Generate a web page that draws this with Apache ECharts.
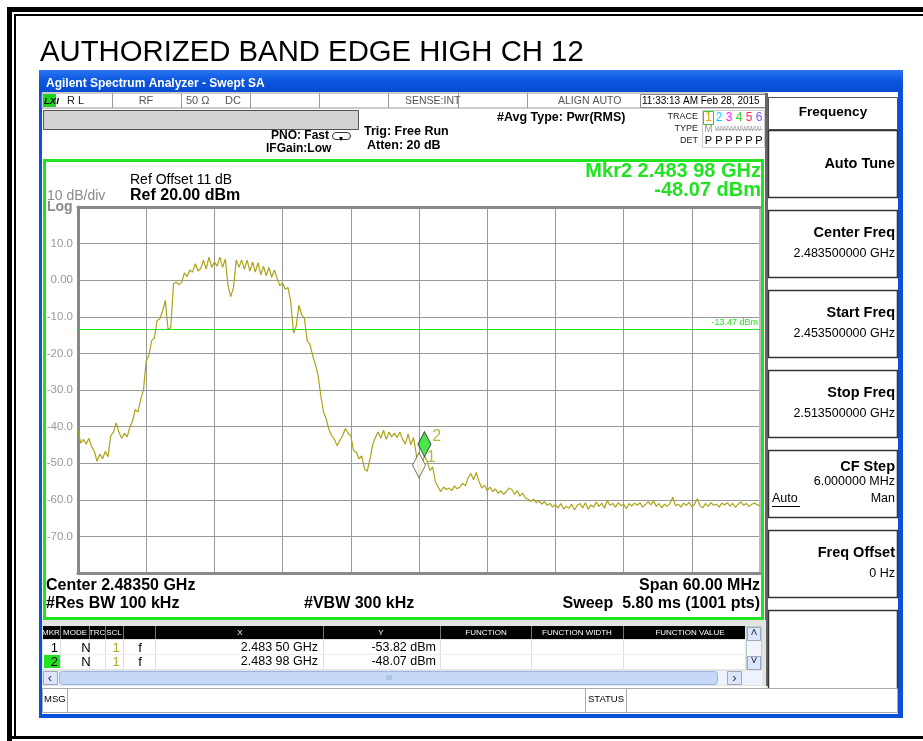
<!DOCTYPE html>
<html><head><meta charset="utf-8">
<script src="https://cdn.jsdelivr.net/npm/echarts@6/dist/echarts.min.js"></script>
<style>html,body{margin:0;padding:0;background:#fff;}#c{width:923px;height:741px;}</style>
</head><body><div id="c"></div>
<script>
// ---- data ----
const titleText = 'AUTHORIZED BAND EDGE HIGH CH 12';
const startFreqGHz = 2.4535;
const spanMHz = 60;
const divMHz = 6;
const refLevelDbm = 20;
const dbPerDiv = 10;
const traceStepMHz = 0.24;
const traceDbm = [
 -41.0,-44.5,-43.5,-44.8,-43.2,-45.5,-46.8,-49.5,-47.5,-48.8,
 -46.8,-48.2,-42.5,-41.5,-39.0,-41.5,-43.2,-41.8,-42.8,-40.2,
 -38.5,-35.3,-36.0,-32.5,-30.0,-22.0,-20.5,-16.5,-15.8,-11.0,
 -10.5,-8.5,-5.5,-13.4,-13.0,-1.0,-0.5,-1.2,-0.6,2.0,
 1.0,2.8,2.2,4.5,2.5,3.2,5.5,3.0,6.3,3.5,
 5.0,3.8,6.3,3.5,5.8,-1.5,-4.5,-2.0,5.5,3.5,
 5.5,3.0,5.5,2.5,5.0,2.2,4.8,1.5,3.8,1.2,
 3.5,0.8,2.8,0.5,-1.5,-0.8,-2.5,-2.0,-6.0,-14.5,
 -12.5,-6.8,-9.5,-10.5,-16.5,-17.5,-20.5,-23.0,-26.0,-31.5,
 -36.0,-38.0,-40.8,-42.5,-43.5,-45.2,-43.8,-42.5,-40.5,-41.8,
 -42.5,-46.5,-47.0,-48.8,-48.0,-51.5,-52.2,-49.0,-45.0,-43.0,
 -41.5,-43.2,-41.0,-43.5,-41.5,-42.8,-41.8,-43.0,-41.5,-43.5,
 -44.8,-42.0,-45.0,-43.0,-47.5,-53.82,-50.0,-48.07,-49.5,-52.0,
 -51.0,-55.0,-56.5,-57.8,-56.5,-57.2,-56.8,-57.5,-56.2,-57.0,
 -56.5,-55.5,-56.2,-54.0,-52.8,-54.5,-52.5,-55.0,-56.8,-56.0,
 -57.5,-56.5,-57.8,-57.0,-58.2,-57.5,-58.5,-57.8,-56.8,-57.2,
 -58.5,-57.5,-59.0,-58.2,-59.5,-59.8,-60.5,-59.8,-60.8,-60.2,
 -61.2,-60.5,-61.5,-61.0,-62.0,-61.3,-62.2,-61.0,-62.5,-61.8,
 -62.3,-61.2,-62.8,-61.5,-61.0,-62.2,-60.8,-62.6,-61.4,-62.0,
 -60.6,-61.8,-60.9,-62.3,-60.2,-61.5,-61.0,-62.0,-60.8,-61.6,
 -61.2,-62.4,-61.0,-61.7,-60.9,-61.5,-60.8,-62.0,-61.3,-60.5,
 -61.4,-60.3,-61.8,-61.0,-62.2,-61.2,-61.8,-61.0,-59.3,-61.6,
 -61.2,-62.0,-60.9,-61.5,-60.7,-61.9,-61.2,-59.7,-61.6,-62.2,
 -61.0,-61.8,-60.8,-61.5,-61.2,-62.0,-60.9,-61.4,-60.8,-61.7,
 -61.0,-62.1,-61.2,-60.6,-61.5,-61.0,-61.8,-61.2,-60.9,-61.4,-61.6
];
const markerIds = ['1', '2'];
const markerFreqGHz = [2.48350, 2.48398];
const markerDbm = [-53.82, -48.07];
const markerText = ['2.483 50 GHz', '2.483 98 GHz'];
const displayLineDbm = -13.47;
const softKeys = ['Auto Tune', 'Center Freq', 'Start Freq', 'Stop Freq', 'CF Step', 'Freq Offset'];
const softValues = ['', '2.483500000 GHz', '2.453500000 GHz', '2.513500000 GHz', '6.000000 MHz', '0 Hz'];

// ---- helpers ----
const FF = '"Liberation Sans", Arial, sans-serif';
const G = [];
function R(x, y, w, h, fill, stroke, lw) {
  G.push({type: 'rect', silent: true, shape: {x, y, width: w, height: h},
    style: {fill: fill || 'none', stroke: stroke || null, lineWidth: lw || 1}});
}
function L(x1, y1, x2, y2, color, lw) {
  G.push({type: 'line', silent: true, shape: {x1, y1, x2, y2}, style: {stroke: color, lineWidth: lw || 1}});
}
function T(x, y, text, size, o) {
  o = o || {};
  G.push({type: 'text', silent: true, x, y,
    style: {text, font: (o.style || '') + ' ' + (o.weight || 'normal') + ' ' + size + 'px ' + (o.family || FF),
      fill: o.color || '#000', align: o.align || 'left', verticalAlign: 'middle'}});
}

// outer frame
R(7, 7, 923, 5, '#000');
R(7, 7, 5, 734, '#000');
R(14, 14, 909, 2, '#000');
R(14, 14, 2, 725, '#000');
R(7, 736, 923, 3, '#000');

T(40, 52.5, titleText, 29.3, {});

// window
R(39, 70, 864, 648, '#0b50d8');
G.push({type: 'rect', silent: true, shape: {x: 39, y: 70, width: 864, height: 22},
  style: {fill: new echarts.graphic.LinearGradient(0, 0, 0, 1, [
    {offset: 0, color: '#2a74f0'}, {offset: 0.5, color: '#0a56e0'}, {offset: 1, color: '#0a4bd0'}])}});
T(46, 84, 'Agilent Spectrum Analyzer - Swept SA', 12, {color: '#fff', weight: 'bold'});
R(42, 92, 856, 622, '#ffffff');

// status row
R(42, 93, 724, 15, '#fff', '#999', 1);
R(43, 94, 13, 13, '#1fd21f');
T(44, 101, 'LXI', 9.5, {style: 'italic', weight: 'bold'});
T(67, 101, 'R L', 11, {color: '#222'});
[112, 181, 250, 319, 388, 458, 527].forEach(x => L(x + 0.5, 93, x + 0.5, 108, '#999', 1));
T(146, 101, 'RF', 11, {color: '#555', align: 'center'});
T(186, 101, '50 \u03a9', 11, {color: '#555'});
T(225, 101, 'DC', 11, {color: '#555'});
T(405, 101, 'SENSE:INT', 10.5, {color: '#555'});
T(558, 101, 'ALIGN AUTO', 10.5, {color: '#555'});
R(640.5, 94.5, 125, 13, '#fff', '#888', 1);
T(642, 101, '11:33:13 AM Feb 28, 2015', 10, {color: '#000'});

// gray bar
R(43.5, 110.5, 315, 19, '#d2d2d2', '#555', 1);

T(271, 136, 'PNO: Fast', 12, {weight: 'bold'});
T(266, 148.5, 'IFGain:Low', 12, {weight: 'bold'});
G.push({type: 'rect', silent: true, shape: {x: 332.5, y: 132.5, width: 18, height: 7, r: 3.5}, style: {fill: '#fff', stroke: '#333', lineWidth: 1}});
G.push({type: 'polygon', silent: true, shape: {points: [[339, 137], [343, 137], [341, 141]]}, style: {fill: '#000'}});
T(364, 131.5, 'Trig: Free Run', 12.5, {weight: 'bold'});
T(367, 146, 'Atten: 20 dB', 12.5, {weight: 'bold'});
T(497, 118, '#Avg Type: Pwr(RMS)', 12.5, {weight: 'bold'});
T(698, 117, 'TRACE', 9, {align: 'right', color: '#222'});
T(698, 129, 'TYPE', 9, {align: 'right', color: '#222'});
T(698, 141, 'DET', 9, {align: 'right', color: '#222'});
R(702.5, 110.5, 62, 37, '#fff', '#ccc', 1);
R(703.5, 111.5, 10, 13, '#fff', '#30d030', 1);
const trColors = ['#f0a000', '#00d8ff', '#ff20ff', '#30d030', '#ff3050', '#8a50ff'];
const trX = [708.5, 719, 729, 739, 749, 759];
trX.forEach((x, i) => {
  T(x, 118, String(i + 1), 12, {color: trColors[i], align: 'center'});
  T(x, 141, 'P', 11, {color: '#000', align: 'center'});
});
T(708.5, 129, 'M', 10, {color: '#999', align: 'center'});
T(715, 129, 'WWWWWWW', 7, {color: '#999'});
L(715, 129.5, 763, 129.5, '#bbb', 1);

// right soft-key panel
R(765, 93, 3, 593, '#666');
R(768.5, 97.5, 129, 32, '#fff', '#555', 1);
T(833, 112, 'Frequency', 13.5, {weight: 'bold', align: 'center'});
const keyTops = [130, 210, 290, 370, 450, 530];
keyTops.forEach((t, i) => {
  R(768.5, t + 0.5, 129, 67, '#fff', '#333', 1.5);
  if (i === 4) {
    T(895, t + 16.5, softKeys[i], 14.5, {weight: 'bold', align: 'right'});
    T(895, t + 32, softValues[i], 12.5, {align: 'right'});
    T(772, t + 49, 'Auto', 12.5, {});
    L(772, t + 56.5, 800, t + 56.5, '#000', 1);
    T(895, t + 49, 'Man', 12.5, {align: 'right'});
  } else if (i === 0) {
    T(895, t + 33.5, softKeys[i], 14.5, {weight: 'bold', align: 'right'});
  } else {
    T(895, t + 22.5, softKeys[i], 14.5, {weight: 'bold', align: 'right'});
    T(895, t + 43.5, softValues[i], 12.5, {align: 'right'});
  }
});
R(768.5, 610.5, 129, 80, '#fff', '#333', 1.5);

// main display frame
R(44.5, 160.5, 718, 458, '#fff', '#22e322', 3);
T(130, 180, 'Ref Offset 11 dB', 14, {});
T(130, 195.5, 'Ref 20.00 dBm', 16, {weight: 'bold'});
T(47, 196, '10 dB/div', 14, {color: '#8a8a8a'});
T(47, 207, 'Log', 14, {color: '#8a8a8a', weight: 'bold'});
T(761, 171, 'Mkr2 ' + markerText[1], 20, {weight: 'bold', color: '#22e322', align: 'right'});
T(761, 190.5, markerDbm[1].toFixed(2) + ' dBm', 20, {weight: 'bold', color: '#22e322', align: 'right'});
T(46, 586, 'Center 2.48350 GHz', 16, {weight: 'bold'});
T(46, 604, '#Res BW 100 kHz', 16, {weight: 'bold'});
T(304, 604, '#VBW 300 kHz', 16, {weight: 'bold'});
T(760, 586, 'Span 60.00 MHz', 16, {weight: 'bold', align: 'right'});
T(760, 604, 'Sweep  5.80 ms (1001 pts)', 16, {weight: 'bold', align: 'right'});

// marker table
R(42, 620, 724, 66, '#e4e4e4');
R(43, 626, 702, 13, '#000');
const hdr = [['MKR', 51], ['MODE', 75], ['TRC', 97], ['SCL', 114], ['X', 240], ['Y', 381], ['FUNCTION', 486], ['FUNCTION WIDTH', 577], ['FUNCTION VALUE', 690]];
hdr.forEach(h => T(h[1], 632.5, h[0], 8, {color: '#fff', align: 'center'}));
[60, 89, 105, 123, 155, 323, 440, 531, 623].forEach(x => L(x + 0.5, 626, x + 0.5, 639, '#777', 1));
R(43, 640, 702, 29, '#fff');
[60, 89, 105, 123, 155, 323, 440, 531, 623].forEach(x => L(x + 0.5, 640, x + 0.5, 669, '#ddd', 1));
L(43, 654.5, 745, 654.5, '#eee', 1);
R(44, 655, 16, 13, '#22e322');
for (let i = 0; i < 2; i++) {
  const y = 648 + i * 14;
  T(58, y, markerIds[i], 13, {align: 'right'});
  T(86, y, 'N', 13, {align: 'center'});
  T(116, y, '1', 13, {align: 'center', color: '#b0a81c'});
  T(140, y, 'f', 13, {align: 'center'});
  T(318, y, markerText[i], 12.5, {align: 'right'});
  T(436, y, markerDbm[i].toFixed(2) + ' dBm', 12.5, {align: 'right'});
}
R(746.5, 626.5, 15, 43, '#f2f4fa', '#bcc', 1);
R(747.5, 627.5, 13, 13, '#dce6fa', '#9ab', 1);
R(747.5, 656.5, 13, 13, '#dce6fa', '#9ab', 1);
T(754, 634, '\u02c4', 12, {align: 'center', color: '#335'});
T(754, 662, '\u02c5', 12, {align: 'center', color: '#335'});
R(43, 671, 719, 14, '#eef2fb');
R(43.5, 671.5, 14, 13, '#dce6fa', '#9ab', 1);
G.push({type: 'rect', silent: true, shape: {x: 59.5, y: 671.5, width: 658, height: 13, r: 3}, style: {fill: '#c6d8f8', stroke: '#9ab4e4', lineWidth: 1}});
R(727.5, 671.5, 14, 13, '#dce6fa', '#9ab', 1);
T(50, 678, '\u2039', 13, {align: 'center', color: '#335'});
T(734.5, 678, '\u203a', 13, {align: 'center', color: '#335'});
T(389, 678, 'III', 7, {align: 'center', color: '#8aa'});

// message bar
R(42.5, 688.5, 855, 24, '#fff', '#aaa', 1);
T(44, 699, 'MSG', 9.5, {color: '#000'});
L(67.5, 688, 67.5, 712, '#aaa', 1);
L(585.5, 688, 585.5, 712, '#aaa', 1);
L(626.5, 688, 626.5, 712, '#aaa', 1);
T(588, 699, 'STATUS', 9.5, {color: '#000'});

// ---- chart ----
const traceData = traceDbm.map((v, i) => [i * traceStepMHz, v]);
const markerData = markerIds.map((id, i) => ({
  value: [(markerFreqGHz[i] - startFreqGHz) * 1000, markerDbm[i]],
  name: id,
  itemStyle: id === '2' ? {color: '#1ee01e', borderColor: '#222', borderWidth: 1} : {color: '#fff', borderColor: '#555', borderWidth: 1}
}));
const trColor = '#aca416';
const gridLine = {show: true, lineStyle: {color: '#999', width: 1}};
const frameAxis = (pos, color, w) => ({type: 'value', min: 0, max: spanMHz, interval: divMHz, position: pos,
  axisLine: {show: true, onZero: false, lineStyle: {color, width: w}}, axisTick: {show: false}, axisLabel: {show: false}, splitLine: {show: false}});
const option = {
  animation: false,
  backgroundColor: '#fff',
  graphic: {elements: G},
  grid: {left: 78, top: 207, width: 682, height: 366, show: false},
  xAxis: [
    {type: 'value', min: 0, max: spanMHz, interval: divMHz, position: 'bottom',
      axisLine: {show: true, onZero: false, lineStyle: {color: '#888', width: 3}}, axisTick: {show: false}, axisLabel: {show: false}, splitLine: gridLine},
    frameAxis('top', '#888', 3)
  ],
  yAxis: [
    {type: 'value', min: refLevelDbm - 10 * dbPerDiv, max: refLevelDbm, interval: dbPerDiv, position: 'left',
      axisLine: {show: true, onZero: false, lineStyle: {color: '#888', width: 3}}, axisTick: {show: false},
      axisLabel: {show: true, color: '#999', fontSize: 11.5, fontFamily: FF, margin: 5, showMinLabel: false, showMaxLabel: false,
        formatter: v => (v === 0 ? '0.00' : v.toFixed(1))},
      splitLine: gridLine},
    {type: 'value', min: refLevelDbm - 10 * dbPerDiv, max: refLevelDbm, interval: dbPerDiv, position: 'right',
      axisLine: {show: true, onZero: false, lineStyle: {color: '#bbb', width: 2}}, axisTick: {show: false}, axisLabel: {show: false}, splitLine: {show: false}}
  ],
  series: [
    {type: 'line', data: traceData, showSymbol: false, symbol: 'none', z: 3,
      lineStyle: {color: trColor, width: 1.2}, itemStyle: {color: trColor},
      markLine: {silent: true, symbol: 'none', animation: false,
        lineStyle: {color: '#22e322', width: 1, type: 'solid'},
        label: {show: true, position: 'insideEndTop', formatter: displayLineDbm.toFixed(2) + ' dBm', color: '#22e322', fontSize: 9, fontFamily: FF, distance: 2},
        data: [{yAxis: displayLineDbm}]}},
    {type: 'scatter', data: markerData, symbol: 'diamond', symbolSize: [13, 25], symbolOffset: [0, -12], z: 5,
      label: {show: true, formatter: p => p.name, position: 'right', distance: 1, offset: [0, -8], color: trColor, fontSize: 16, fontFamily: FF}}
  ]
};
const chart = echarts.init(document.getElementById('c'), null, {renderer: 'canvas'});
chart.setOption(option);
</script>
</body></html>
